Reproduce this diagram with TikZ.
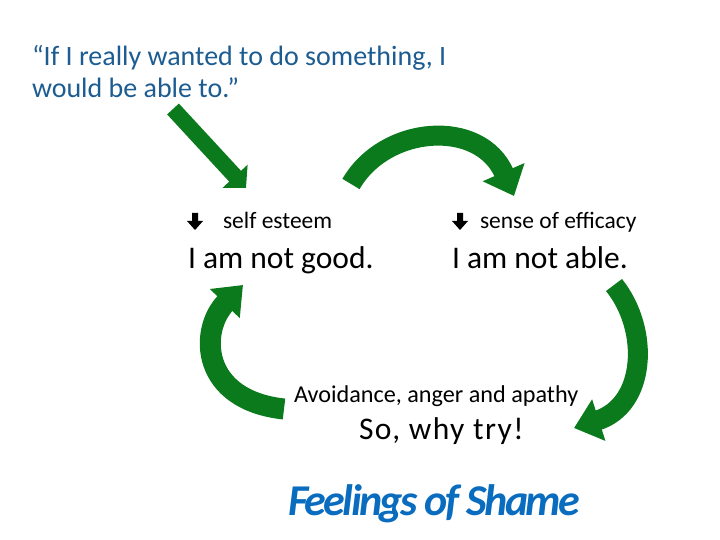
\documentclass[tikz,border=0pt]{standalone}
\usepackage{fontspec}
\setmainfont{Carlito}
\usetikzlibrary{arrows.meta}
\definecolor{arrowgreen}{RGB}{10,122,28}
\definecolor{shameblue}{RGB}{10,108,190}
\definecolor{quoteblue}{RGB}{28,92,145}
\newfontfamily\tryfont[LetterSpace=4.6]{Carlito}
\newfontfamily\tightfont[LetterSpace=-6,BoldItalicFont={* Bold Italic}]{Carlito}
\tikzset{
  txt/.style={anchor=base west, inner sep=0pt, outer sep=0pt},
  small/.style={txt, font=\fontsize{23.5}{28}\selectfont},
  big/.style={txt, font=\fontsize{31.5}{36}\selectfont},
  quote/.style={txt, text=quoteblue, font=\fontsize{28}{32}\selectfont},
  greenarrow/.style={draw=arrowgreen, line width=20pt, line cap=butt},
  downsym/.style={fill=black, draw=none}
}
\newcommand{\downarrowsym}[2]{%
  \fill[downsym] (#1-3,#2) -- (#1+3,#2) -- (#1+3,#2+8) -- (#1+8,#2+8) -- (#1,#2+17) -- (#1-8,#2+8) -- (#1-3,#2+8) -- cycle;}
\begin{document}
\begin{tikzpicture}[x=1pt,y=-1pt]
\useasboundingbox (0,0) rectangle (720,540);
% texts
\node[quote] (q1) at (32,66) {“If I really wanted to do something, I};
\node[quote] (q2) at (32,98) {would be able to.”};
\node[small] (se) at (223,229) {self esteem};
\node[big] (good) at (188,268) {I am not good.};
\node[small] (eff) at (480,229) {sense of efficacy};
\node[big] (able) at (452,268) {I am not able.};
\node[small, font=\fontsize{24.2}{28}\selectfont] (avoid) at (294,402) {Avoidance, anger and apathy};
\node[txt, font=\tryfont\fontsize{31.5}{36}\selectfont] (try) at (359,439) {So, why try!};
\node[txt, font=\tightfont\fontsize{44}{50}\selectfont\bfseries\itshape, text=shameblue] (shame) at (288,515) {Feelings of Shame};
% small down arrows
\downarrowsym{195}{213}
\downarrowsym{460}{213}
% straight arrow
\coordinate (s1) at (173,109);
\coordinate (s2) at (246,188);
\draw[arrowgreen, line width=16pt, -{Triangle[length=16pt,width=33pt]}] (s1) -- (s2);
% top curved arrow
\coordinate (t1) at (351,184);
\coordinate (t2) at (514,196);
\draw[greenarrow, -{Triangle[length=26pt,width=44pt]}] (t1) .. controls (385,125) and (480,118) .. (t2);
% right curved arrow
\coordinate (r1) at (614,285);
\coordinate (r2) at (574,428);
\draw[greenarrow, -{Triangle[length=26pt,width=42pt]}] (r1) .. controls (650,330) and (646,405) .. (r2);
% left curved arrow
\coordinate (l1) at (284,409);
\coordinate (l2) at (243,285);
\draw[greenarrow, line width=21pt, -{Triangle[length=26pt,width=40pt]}] (l1) .. controls (200,400) and (199,330) .. (l2);
\end{tikzpicture}
\end{document}
